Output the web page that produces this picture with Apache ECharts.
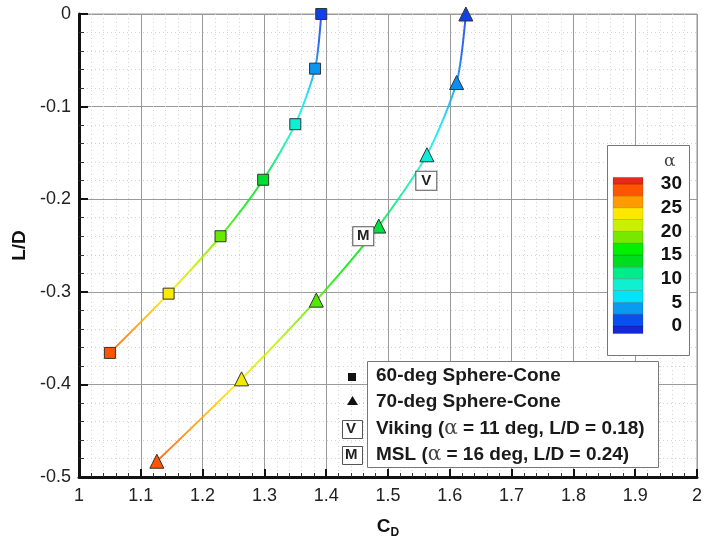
<!DOCTYPE html>
<html><head><meta charset="utf-8">
<script src="https://cdn.jsdelivr.net/npm/echarts@6/dist/echarts.min.js"></script>
<style>html,body{margin:0;padding:0;background:#fff}#c{width:705px;height:544px}</style>
</head><body><div id="c"></div>
<script>
// ---- data ----
const alpha = [30, 25, 20, 15, 10, 5, 0];
const cd60 = [1.050, 1.145, 1.229, 1.298, 1.350, 1.382, 1.392];
const ld60 = [-0.366, -0.302, -0.240, -0.179, -0.119, -0.059, 0.0];
const cd70 = [1.126, 1.263, 1.384, 1.485, 1.563, 1.611, 1.626];
const ld70 = [-0.483, -0.394, -0.309, -0.229, -0.152, -0.074, 0.0];
const annotations = [[1.562, -0.180, 'V'], [1.460, -0.240, 'M']];
const seriesNames = ['60-deg Sphere-Cone', '70-deg Sphere-Cone'];
const legendTexts = ['60-deg Sphere-Cone', '70-deg Sphere-Cone',
  'Viking ({g|α} = 11 deg, L/D = 0.18)', 'MSL ({g|α} = 16 deg, L/D = 0.24)'];
// colour levels of alpha (0..30, every 2.5)
const alphaLevels = [0, 2.5, 5, 7.5, 10, 12.5, 15, 17.5, 20, 22.5, 25, 27.5, 30];
const levelColors = ['#1040e8', '#0a50f0', '#0a9af0', '#00e4f8', '#10f0d0', '#00ec88', '#00dc20',
  '#00f000', '#78e800', '#c8f000', '#ffe800', '#ff9a00', '#ff5500'];
// colour bar bands [lo, hi]
const bandEdges = [-1.6, 0, 2.5, 5, 7.5, 10, 12.5, 15, 17.5, 20, 22.5, 25, 27.5, 30, 31.4];
const bandColors = ['#1428d8', '#0a50f0', '#0a9af0', '#00e4f8', '#10f0d0', '#00ec88', '#00dc20',
  '#00f000', '#78e800', '#c8f000', '#ffe800', '#ff9a00', '#ff5500', '#e82818'];

const FONT = '"Liberation Sans", Arial, sans-serif';
const chart = echarts.init(document.getElementById('c'), null, {renderer: 'canvas'});

const s60 = cd60.map((x, i) => [x, ld60[i], alpha[i]]);
const s70 = cd70.map((x, i) => [x, ld70[i], alpha[i]]);
const bands = bandColors.map((c, i) => [bandEdges[i], bandEdges[i + 1]]);
const colorsHighToLow = levelColors.slice().reverse();

const box = {stroke: '#777', lineWidth: 1, fill: '#fff'};
const graphics = [
  {type: 'rect', left: 607, top: 145, shape: {width: 82, height: 210}, style: box, z: 3},
  {type: 'text', left: 664, top: 153, style: {text: 'α', font: '17px "DejaVu Serif", serif', fill: '#444'}, z: 4},
  {type: 'rect', left: 367, top: 361, shape: {width: 291, height: 106}, style: box, z: 3},
  // legend symbols (left of the box)
  {type: 'rect', left: 348, top: 373, shape: {width: 8, height: 8}, style: {fill: '#111'}, z: 4},
  {type: 'polygon', shape: {points: [[352.5, 396], [347, 405], [358, 405]]}, style: {fill: '#111'}, z: 4},
  {type: 'rect', left: 342, top: 420, shape: {width: 20, height: 18}, style: {fill: '#fff', stroke: '#555', lineWidth: 1}, z: 4},
  {type: 'text', left: 346, top: 421, style: {text: 'V', font: 'bold 15px ' + FONT, fill: '#222'}, z: 5},
  {type: 'rect', left: 342, top: 446, shape: {width: 20, height: 18}, style: {fill: '#fff', stroke: '#555', lineWidth: 1}, z: 4},
  {type: 'text', left: 345, top: 447, style: {text: 'M', font: 'bold 15px ' + FONT, fill: '#222'}, z: 5}
];
legendTexts.forEach((t, i) => {
  graphics.push({type: 'text', left: 376, top: 366 + i * 26.3, z: 5,
    style: {text: t, font: 'bold 19px ' + FONT, fill: '#1a1a1a',
      rich: {g: {font: '20px "DejaVu Serif", serif', fill: '#444'}}}});
});

const lineSeries = (name, data, sym, size) => ({
  name, type: 'line', data, xAxisIndex: 0, yAxisIndex: 0,
  smooth: 0.25, symbol: sym, symbolSize: size, showSymbol: true,
  lineStyle: {width: 2, opacity: 0.85},
  itemStyle: {borderColor: '#333', borderWidth: 1},
  emphasis: {disabled: true}, z: 3
});

chart.setOption({
  animation: false,
  backgroundColor: '#fff',
  textStyle: {fontFamily: FONT},
  grid: [
    {left: 79, right: 6, top: 14, bottom: 61, show: true, borderColor: '#999', borderWidth: 1},
    {left: 613, width: 30, top: 184, height: 142}
  ],
  xAxis: [
    {type: 'value', gridIndex: 0, min: 1, max: 2, interval: 0.1,
      name: '{c|C}{d|D}', nameLocation: 'middle', nameGap: 38,
      nameTextStyle: {rich: {c: {fontSize: 19, fontWeight: 'bold', color: '#111', fontFamily: FONT},
        d: {fontSize: 12, fontWeight: 'bold', color: '#111', fontFamily: FONT, padding: [12, 0, 0, 0]}}},
      axisLine: {onZero: false, lineStyle: {color: '#111', width: 3}},
      axisTick: {inside: true, length: 8, lineStyle: {color: '#111', width: 2}},
      minorTick: {show: true, splitNumber: 5, length: 4, lineStyle: {color: '#333', width: 1}},
      splitLine: {show: true, lineStyle: {color: '#9a9a9a', width: 1}},
      minorSplitLine: {show: true, lineStyle: {color: '#d4d4d4', width: 1, type: [1, 3]}},
      axisLabel: {fontSize: 18, color: '#222', margin: 10}},
    {type: 'value', gridIndex: 1, min: 0, max: 1, show: false}
  ],
  yAxis: [
    {type: 'value', gridIndex: 0, min: -0.5, max: 0, interval: 0.1,
      name: 'L/D', nameLocation: 'middle', nameGap: 46, nameRotate: 90,
      nameTextStyle: {fontSize: 19, fontWeight: 'bold', color: '#111'},
      axisLine: {onZero: false, lineStyle: {color: '#111', width: 3}},
      axisTick: {inside: true, length: 9, lineStyle: {color: '#111', width: 2}},
      minorTick: {show: true, splitNumber: 5, length: 5, lineStyle: {color: '#333', width: 1}},
      splitLine: {show: true, lineStyle: {color: '#9a9a9a', width: 1}},
      minorSplitLine: {show: true, lineStyle: {color: '#d4d4d4', width: 1, type: [1, 3]}},
      axisLabel: {fontSize: 18, color: '#222', margin: 8}},
    {type: 'value', gridIndex: 1, min: 0, max: 30, interval: 5, position: 'right', z: 12,
      axisLine: {show: false}, axisTick: {show: false}, splitLine: {show: false},
      axisLabel: {fontSize: 19, fontWeight: 'bold', color: '#111', align: 'right', margin: 39}}
  ],
  visualMap: [
    {type: 'continuous', show: false, seriesIndex: 0, dimension: 1,
      min: ld60[0], max: ld60[ld60.length - 1], inRange: {color: colorsHighToLow}},
    {type: 'continuous', show: false, seriesIndex: 1, dimension: 1,
      min: ld70[0], max: ld70[ld70.length - 1], inRange: {color: colorsHighToLow}}
  ],
  series: [
    lineSeries(seriesNames[0], s60, 'rect', 11),
    lineSeries(seriesNames[1], s70, 'triangle', 14),
    {type: 'scatter', xAxisIndex: 0, yAxisIndex: 0, data: annotations, symbol: 'rect',
      symbolSize: [21, 19], z: 6,
      itemStyle: {color: '#fff', borderColor: '#555', borderWidth: 1, opacity: 1},
      emphasis: {disabled: true},
      label: {show: true, position: 'inside', formatter: p => p.data[2], fontSize: 15,
        fontWeight: 'bold', color: '#222'}},
    {type: 'custom', xAxisIndex: 1, yAxisIndex: 1, data: bands, z: 10, clip: false,
      renderItem: (params, api) => {
        const p1 = api.coord([0, api.value(1)]);
        const p2 = api.coord([1, api.value(0)]);
        return {type: 'rect', shape: {x: p1[0], y: p1[1], width: p2[0] - p1[0], height: p2[1] - p1[1]},
          style: {fill: bandColors[params.dataIndex], stroke: 'rgba(0,0,0,0.25)', lineWidth: 0.6}};
      }}
  ],
  graphic: graphics
});
</script></body></html>
